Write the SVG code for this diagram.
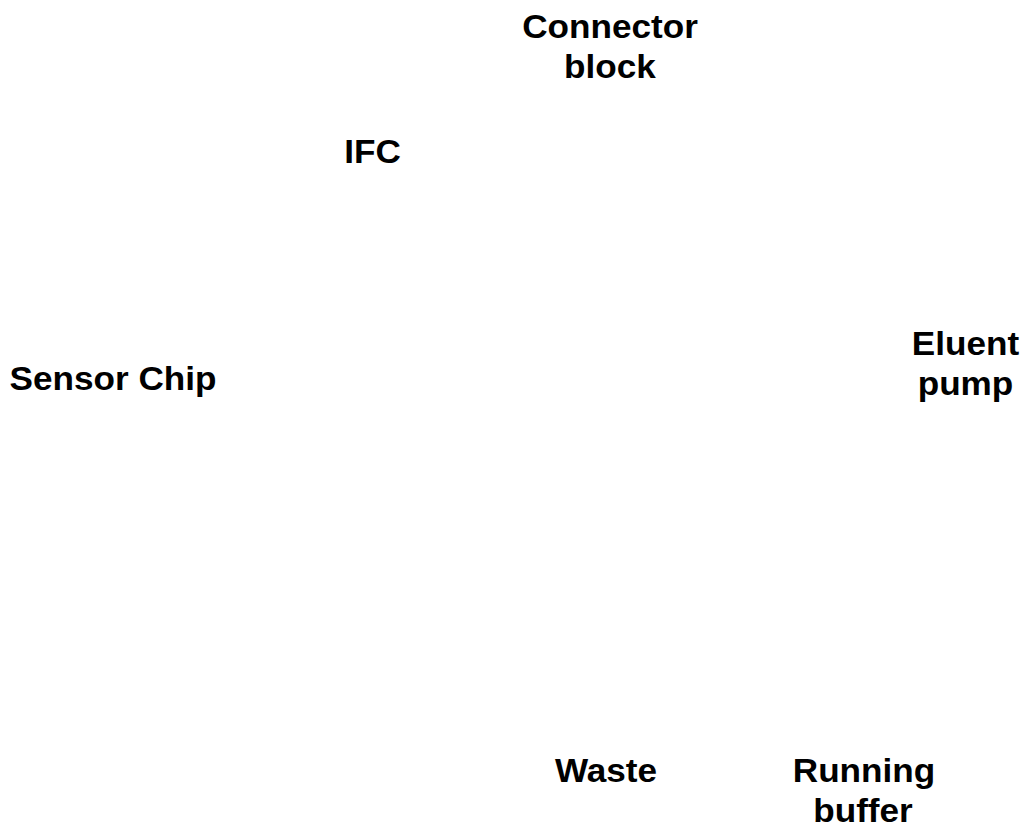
<svg xmlns="http://www.w3.org/2000/svg" width="1024" height="824" viewBox="0 0 1024 824">
<style>
.lbl{font-family:"Liberation Sans",Arial,sans-serif;font-weight:bold;font-size:33px;fill:#000;text-anchor:middle}
</style>
<rect width="1024" height="824" fill="#fff"/>
<g id="connector-block"><text class="lbl" transform="translate(610,37.5) scale(1.065,1)">Connector</text><text class="lbl" transform="translate(610,78) scale(1.065,1)">block</text></g>
<g id="ifc"><text class="lbl" transform="translate(372.5,162.5) scale(1.065,1)">IFC</text></g>
<g id="sensor-chip"><text class="lbl" transform="translate(113,390) scale(1.065,1)">Sensor Chip</text></g>
<g id="eluent-pump"><text class="lbl" transform="translate(965.5,355) scale(1.065,1)">Eluent</text><text class="lbl" transform="translate(965.5,395) scale(1.065,1)">pump</text></g>
<g id="waste"><text class="lbl" transform="translate(606,782) scale(1.065,1)">Waste</text></g>
<g id="running-buffer"><text class="lbl" transform="translate(864,782) scale(1.065,1)">Running</text><text class="lbl" transform="translate(863,822) scale(1.065,1)">buffer</text></g>
<g id="connectors"></g>
</svg>
